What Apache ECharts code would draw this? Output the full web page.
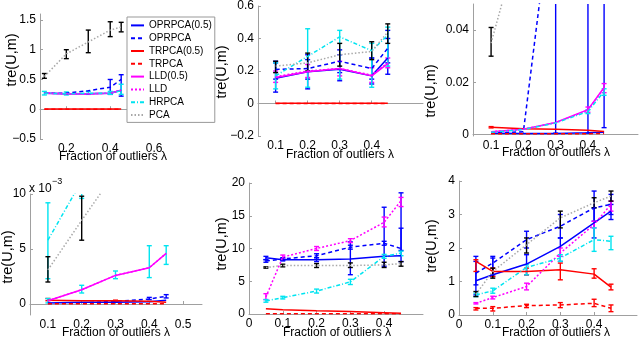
<!DOCTYPE html>
<html><head><meta charset="utf-8">
<script src="https://cdn.jsdelivr.net/npm/echarts@6/dist/echarts.min.js"></script>
<style>html,body{margin:0;padding:0;background:#fff}#c{width:640px;height:340px}</style>
</head><body><div id="c"></div>
<script>
// ---------- data ----------
const seriesNames = ['OPRPCA(0.5)','OPRPCA','TRPCA(0.5)','TRPCA','LLD(0.5)','LLD','HRPCA','PCA'];
const xTitle = 'Fraction of outliers \u03bb';
const yTitle = 'tre(U,m)';
const xFracA = [0.1,0.2,0.3,0.4,0.45];
const xFracB = [0.05,0.1,0.2,0.3,0.4,0.45];

// panel 1
const p1_xticks = [0.2,0.4,0.6];
const p1_yticks = [-0.5,0,0.5,1,1.5];
const p1_O5 = [0.27,0.26,0.26,0.27,0.32];
const p1_O  = [0.27,0.27,0.31,0.37,0.5];
const p1_T5 = [0.005,0.005,0.005,0.005,0.005];
const p1_T  = [0,0,0,0,0];
const p1_L5 = [0.27,0.26,0.26,0.27,0.32];
const p1_L  = [0.27,0.26,0.26,0.27,0.32];
const p1_H  = [0.27,0.26,0.27,0.27,0.31];
const p1_P  = [0.55,0.93,1.13,1.33,1.38];
const p1_err_P = [[0.52,0.6],[0.85,1.0],[0.95,1.33],[1.22,1.47],[1.3,1.46]];
const p1_err_O = [null,null,null,[0.25,0.5],[0.22,0.58]];
const p1_err_H = [[0.24,0.3],[0.24,0.29],[0.25,0.3],[0.25,0.3],[0.25,0.42]];

// panel 2
const p2_xticks = [0.1,0.2,0.3,0.4];
const p2_yticks = [-0.2,0,0.2,0.4,0.6];
const p2_O5 = [0.155,0.195,0.21,0.17,0.28];
const p2_O  = [0.21,0.215,0.26,0.215,0.34];
const p2_T5 = [0.002,0.002,0.002,0.002,0.002];
const p2_T  = [0,0,0,0,0];
const p2_L5 = [0.16,0.195,0.215,0.17,0.245];
const p2_L  = [0.165,0.2,0.215,0.175,0.25];
const p2_H  = [0.17,0.29,0.41,0.325,0.42];
const p2_P  = [0.23,0.25,0.3,0.32,0.44];
const p2_err_O5 = [[0.07,0.25],[0.09,0.3],[0.14,0.3],[0.12,0.28],[0.18,0.4]];
const p2_err_O  = [[0.15,0.26],[0.15,0.27],[0.19,0.33],[0.15,0.28],[0.25,0.45]];
const p2_err_L  = [[0.13,0.2],[0.16,0.24],[0.17,0.26],[0.13,0.22],[0.22,0.28]];
const p2_err_H  = [[0.09,0.25],[0.1,0.46],[0.15,0.45],[0.1,0.37],[0.23,0.47]];
const p2_err_P  = [[0.19,0.26],[0.2,0.31],[0.23,0.37],[0.27,0.38],[0.37,0.49]];

// panel 3
const p3_xticks = [0.1,0.2,0.3,0.4];
const p3_yticks = [0,0.02,0.04];
const p3_O5 = [0.0005,0.0004,0.0004,0.0006,0.0008];
const p3_O  = [0.0006,0.001,0.1,0.2,0.25];
const p3_T5 = [0.0028,0.0022,0.002,0.0016,0.0011];
const p3_T  = [0.0003,0.0003,0.0003,0.0003,0.0004];
const p3_L5 = [0.001,0.002,0.0046,0.0095,0.018];
const p3_L  = [0.001,0.002,0.0045,0.0093,0.0178];
const p3_H  = [0.0008,0.0019,0.0044,0.0088,0.0165];
const p3_P  = [0.035,0.08,0.12,0.15,0.17];
const p3_err_O  = [null,null,[0.0005,0.2],[0.0005,0.4],[0.0026,0.5]];
const p3_err_T5 = [[0.0025,0.003],null,null,null,null];
const p3_err_L  = [null,null,null,[0.0085,0.0105],[0.016,0.0195]];
const p3_err_H  = [null,null,null,[0.008,0.0095],[0.015,0.0175]];
const p3_err_P  = [[0.03,0.041],null,null,null,null];

// panel 4 (values in units of 1e-3)
const p4_xticks = [0.1,0.2,0.3,0.4,0.5];
const p4_yticks = [0,5,10];
const p4_O5 = [0.1,0.15,0.15,0.2,0.35];
const p4_O  = [0.05,0.1,0.25,0.45,0.7];
const p4_T5 = [0.35,0.3,0.3,0.25,0.15];
const p4_T  = [0.03,0.03,0.03,0.03,0.03];
const p4_L5 = [0.3,1.3,2.6,3.3,4.6];
const p4_L  = [0.3,1.3,2.6,3.3,4.6];
const p4_H  = [5.8,11.2,15,18,20];
const p4_P  = [3.1,7.6,12,15,16];
const p4_err_O  = [null,null,null,[0.4,0.6],[0.55,0.85]];
const p4_err_T5 = [[0.3,0.5],null,[0.2,0.35],null,null];
const p4_err_H  = [[2.3,9.2],[9.6,12],null,null,null];
const p4_err_H2 = [[0.1,0.5],[1.0,1.7],[2.3,3.0],[2.4,5.3],[3.6,5.3]];
const p4_err_P  = [[2.0,4.3],[5.8,9.8],null,null,null];

// panel 5
const p5_xticks = [0,0.1,0.2,0.3,0.4];
const p5_yticks = [0,5,10,15,20];
const p5_O5 = [8.6,8.3,8.3,8.4,8.8,8.9];
const p5_O  = [8.1,8.4,8.9,10.2,10.8,10.0];
const p5_T5 = [0.8,0.65,0.5,0.4,0.2,0.1];
const p5_T  = [0.05,0.05,0.05,0.05,0.05,0.05];
const p5_L5 = [];
const p5_L  = [2.6,8.7,10.0,11.2,14.0,17.3];
const p5_H  = [2.0,2.5,3.5,4.9,8.8,9.3];
const p5_P  = [7.1,7.4,7.4,7.4,7.5,7.7];
const p5_err_O5 = [[8.3,8.8],[8.1,8.5],[8.0,8.6],[6.0,11.0],[7.3,16.3],[8.0,18.5]];
const p5_err_O  = [[7.9,8.3],[8.2,8.6],[8.6,9.2],[9.9,10.5],[10.5,11.1],[9.7,13.1]];
const p5_err_L  = [[2.2,3.1],[8.4,9.0],[9.7,10.3],[10.9,11.5],[13.3,14.8],[16.4,17.8]];
const p5_err_H  = [[1.8,2.2],[2.3,2.7],[3.2,3.8],[4.5,5.3],[8.5,9.1],[8.9,9.6]];
const p5_err_P  = [[7.0,7.2],[7.2,7.6],[7.1,7.7],[7.1,7.8],[7.1,7.9],[7.3,8.0]];

// panel 6
const p6_xticks = [0,0.1,0.2,0.3,0.4];
const p6_yticks = [0,1,2,3,4];
const p6_O5 = [1.02,1.2,1.52,2.05,2.75,3.1];
const p6_O  = [1.25,1.55,2.25,2.65,3.2,3.3];
const p6_T5 = [1.6,1.3,1.3,1.35,1.22,0.83];
const p6_T  = [0.2,0.2,0.28,0.3,0.35,0.2];
const p6_L5 = [];
const p6_L  = [0.35,0.52,0.85,1.85,2.7,3.3];
const p6_H  = [0.6,0.72,1.42,1.7,2.25,2.2];
const p6_P  = [0.62,1.3,2.1,2.9,3.35,3.55];
const p6_err_O5 = [[0.6,1.75],[1.15,1.75],[1.2,1.8],[1.6,2.3],[2.3,3.2],[2.85,3.3]];
const p6_err_O  = [[0.9,1.6],[1.2,1.7],[2.0,2.5],[2.3,3.0],[2.8,3.7],[3.0,3.6]];
const p6_err_T5 = [[1.3,1.65],[1.15,1.4],[1.2,1.4],[1.05,1.55],[1.1,1.38],[0.75,0.92]];
const p6_err_T  = [[0.15,0.22],[0.12,0.25],[0.22,0.32],[0.22,0.37],[0.25,0.47],[0.1,0.3]];
const p6_err_L  = [[0.33,0.37],[0.48,0.56],[0.75,0.95],[1.75,2.0],[2.6,2.8],[3.1,3.4]];
const p6_err_H  = [[0.55,0.65],[0.65,0.8],[1.2,1.5],[1.6,1.8],[1.9,2.6],[1.95,2.35]];
const p6_err_P  = [[0.55,0.7],[1.1,1.4],[1.85,2.3],[2.6,3.1],[3.2,3.5],[3.4,3.7]];

// ---------- styling / layout ----------
const FONT = "'Liberation Sans', Arial, Helvetica, sans-serif";
const KEYS = ['O5','O','T5','T','L5','L','H','P'];
const LINE = {
  O5:{color:'#0000ff', type:'solid'},
  O:{color:'#0000ff', type:[4,3]},
  T5:{color:'#ff0000', type:'solid'},
  T:{color:'#ff0000', type:[4,3]},
  L5:{color:'#ff00ff', type:'solid'},
  L:{color:'#ff00ff', type:[2,2]},
  H:{color:'#00e4f0', type:[4,2,1,2]},
  P:{color:'#a8a8a8', type:[1.5,2]}
};
const ERRC = {O5:'#0000ff',O:'#0000ff',T5:'#ff0000',T:'#ff0000',L5:'#ff00ff',L:'#ff00ff',H:'#00e4f0',H2:'#00e4f0',P:'#000000'};

const panels = [
  {grid:{left:40,top:14,width:147,height:125}, xr:[0.08,0.75], yr:[-0.5,1.6], xt:p1_xticks, yt:p1_yticks, xs:xFracA,
   d:{O5:p1_O5,O:p1_O,T5:p1_T5,T:p1_T,L5:p1_L5,L:p1_L,H:p1_H,P:p1_P},
   e:{O:p1_err_O,H:p1_err_H,P:p1_err_P},
   xtitle:[113,157], ytitle:[12,60]},
  {grid:{left:258,top:5,width:165,height:131}, xr:[0.045,0.56], yr:[-0.2,0.6], xt:p2_xticks, yt:p2_yticks, xs:xFracA,
   d:{O5:p2_O5,O:p2_O,T5:p2_T5,T:p2_T,L5:p2_L5,L:p2_L,H:p2_H,P:p2_P},
   e:{O5:p2_err_O5,O:p2_err_O,L:p2_err_L,H:p2_err_H,P:p2_err_P},
   xtitle:[340,155], ytitle:[222,72]},
  {grid:{left:473,top:4,width:165,height:132}, xr:[0.044,0.555], yr:[-0.0006,0.05], xt:p3_xticks, yt:p3_yticks, xs:xFracA,
   d:{O5:p3_O5,O:p3_O,T5:p3_T5,T:p3_T,L5:p3_L5,L:p3_L,H:p3_H,P:p3_P},
   e:{O:p3_err_O,T5:p3_err_T5,L:p3_err_L,H:p3_err_H,P:p3_err_P},
   xtitle:[556,153], ytitle:[431,91]},
  {grid:{left:30,top:194,width:172,height:121}, xr:[0.047,0.556], yr:[-1,10], xt:p4_xticks, yt:p4_yticks, xs:xFracA,
   d:{O5:p4_O5,O:p4_O,T5:p4_T5,T:p4_T,L5:p4_L5,L:p4_L,H:p4_H,P:p4_P},
   e:{O:p4_err_O,T5:p4_err_T5,H:p4_err_H,H2:p4_err_H2,P:p4_err_P},
   xtitle:[116,333], ytitle:[8,257]},
  {grid:{left:249,top:183,width:174,height:131}, xr:[0,0.515], yr:[0,20], xt:p5_xticks, yt:p5_yticks, xs:xFracB,
   d:{O5:p5_O5,O:p5_O,T5:p5_T5,T:p5_T,L5:p5_L5,L:p5_L,H:p5_H,P:p5_P},
   e:{O5:p5_err_O5,O:p5_err_O,L:p5_err_L,H:p5_err_H,P:p5_err_P},
   xtitle:[337,333], ytitle:[222,244]},
  {grid:{left:459,top:181,width:178,height:134}, xr:[0,0.527], yr:[0,4], xt:p6_xticks, yt:p6_yticks, xs:xFracB,
   d:{O5:p6_O5,O:p6_O,T5:p6_T5,T:p6_T,L5:p6_L5,L:p6_L,H:p6_H,P:p6_P},
   e:{O5:p6_err_O5,O:p6_err_O,T5:p6_err_T5,T:p6_err_T,L:p6_err_L,H:p6_err_H,P:p6_err_P},
   xtitle:[556,333], ytitle:[432,246]}
];

const fmt = v => String(+(+v).toFixed(5)).replace('-', '\u2212');
const axisCommon = (ticks) => ({
  type:'value',
  axisLine:{show:true, lineStyle:{color:'#a0a0a0', width:1}},
  axisTick:{show:true, inside:true, length:3, lineStyle:{color:'#a0a0a0'}, customValues:ticks},
  axisLabel:{color:'#000', fontSize:12, fontFamily:FONT, customValues:ticks, formatter:fmt},
  splitLine:{show:false}
});

const grids = [], xAxes = [], yAxes = [], series = [], graphics = [];
panels.forEach((p, i) => {
  grids.push(Object.assign({containLabel:false}, p.grid));
  const xa = axisCommon(p.xt); xa.gridIndex = i; xa.min = p.xr[0]; xa.max = p.xr[1]; xa.axisLabel.margin = 4;
  const ya = axisCommon(p.yt); ya.gridIndex = i; ya.min = p.yr[0]; ya.max = p.yr[1]; ya.axisLabel.margin = 4;
  xAxes.push(xa); yAxes.push(ya);
  KEYS.forEach((k, j) => {
    const vals = p.d[k];
    series.push({
      type:'line', name:seriesNames[j], xAxisIndex:i, yAxisIndex:i,
      data: vals.map((v, n) => [p.xs[n], v]),
      symbol:'circle', showSymbol:false, symbolSize:0, clip:true, silent:true, animation:false,
      lineStyle:{color:LINE[k].color, type:LINE[k].type, width:1.5},
      itemStyle:{color:LINE[k].color}, z:2
    });
    [k, k + '2'].forEach(ek => {
      const errs = p.e[ek];
      if (!errs) return;
      const data = [];
      errs.forEach((r, n) => { if (r) data.push([p.xs[n], r[0], r[1]]); });
      const col = ERRC[ek];
      series.push({
        type:'custom', xAxisIndex:i, yAxisIndex:i, clip:true, silent:true, animation:false, z:2,
        encode:{x:0, y:[1,2]},
        data,
        renderItem:(params, api) => {
          const a = api.coord([api.value(0), api.value(1)]);
          const b = api.coord([api.value(0), api.value(2)]);
          const st = {stroke:col, lineWidth:1.4};
          return {type:'group', children:[
            {type:'line', shape:{x1:a[0], y1:a[1], x2:b[0], y2:b[1]}, style:st},
            {type:'line', shape:{x1:a[0]-2.5, y1:a[1], x2:a[0]+2.5, y2:a[1]}, style:st},
            {type:'line', shape:{x1:b[0]-2.5, y1:b[1], x2:b[0]+2.5, y2:b[1]}, style:st}
          ]};
        }
      });
    });
  });
  graphics.push({type:'text', x:p.xtitle[0], y:p.xtitle[1], style:{text:xTitle, fontSize:12, fontFamily:FONT, fill:'#000', textAlign:'center', textVerticalAlign:'middle'}});
  graphics.push({type:'text', x:p.ytitle[0], y:p.ytitle[1], rotation:Math.PI/2, style:{text:yTitle, fontSize:14.5, fontFamily:FONT, fill:'#000', textAlign:'center', textVerticalAlign:'middle'}});
});
// exponent label for panel 4
graphics.push({type:'text', x:29, y:189, style:{text:'x 10', fontSize:12, fontFamily:FONT, fill:'#000', textAlign:'left', textVerticalAlign:'middle'}});
graphics.push({type:'text', x:52, y:182, style:{text:'\u22123', fontSize:9, fontFamily:FONT, fill:'#000', textAlign:'left', textVerticalAlign:'middle'}});

const chart = echarts.init(document.getElementById('c'), null, {renderer:'canvas'});
chart.setOption({
  animation:false,
  backgroundColor:'#fff',
  grid:grids, xAxis:xAxes, yAxis:yAxes, series,
  graphic:graphics,
  legend:{
    data:seriesNames, orient:'vertical', left:127, top:17,
    itemWidth:13, itemHeight:8, itemGap:0, padding:[2,3,1,3],
    itemStyle:{opacity:0},
    textStyle:{fontSize:10, lineHeight:12.8, fontFamily:FONT, color:'#000'},
    borderColor:'#999', borderWidth:1, backgroundColor:'#fff', selectedMode:false, z:10
  }
});
</script></body></html>
